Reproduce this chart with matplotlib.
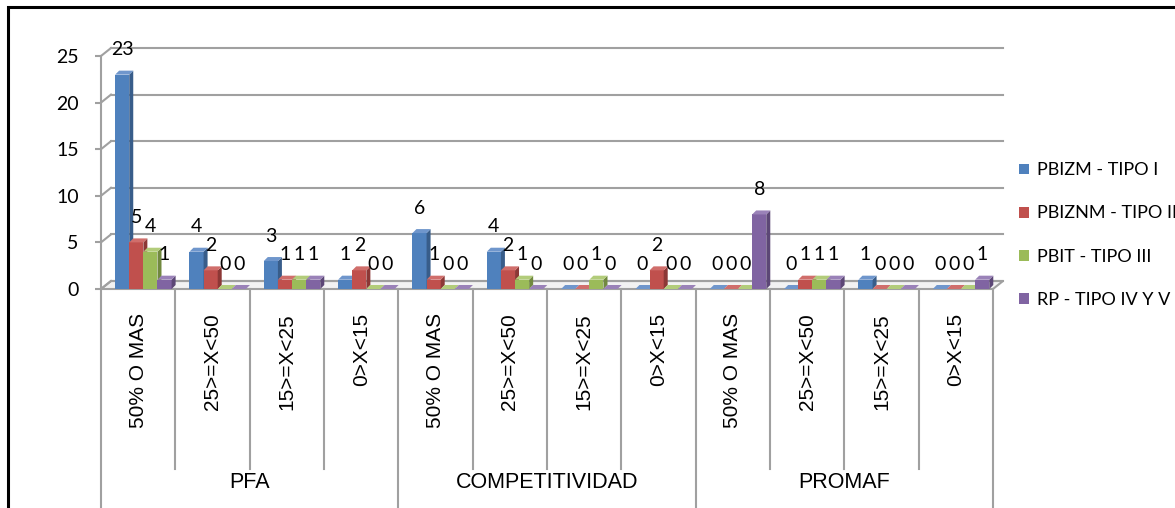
import matplotlib.pyplot as plt
from matplotlib.patches import Polygon, Patch, Rectangle

# categories and counts per tipo
groups = ['PFA', 'COMPETITIVIDAD', 'PROMAF']
ranges = ['50% O MAS', '25>=X<50', '15>=X<25', '0>X<15']
series = ['PBIZM - TIPO I', 'PBIZNM - TIPO II', 'PBIT - TIPO III', 'RP - TIPO IV Y V']

tipo_1 = [23, 4, 3, 1, 6, 4, 0, 0, 0, 0, 1, 0]
tipo_2 = [5, 2, 1, 2, 1, 2, 0, 2, 0, 1, 0, 0]
tipo_3 = [4, 0, 1, 0, 0, 1, 1, 0, 0, 1, 0, 0]
tipo_4 = [1, 0, 1, 0, 0, 0, 0, 0, 8, 1, 0, 1]

y_ticks = [0, 5, 10, 15, 20, 25]

front = ['#4F81BD', '#C0504D', '#9BBB59', '#8064A2']
side = ['#385D8A', '#8C3836', '#71893F', '#5C4776']
top = ['#6F96CC', '#D06E6B', '#B2CC7A', '#9A82B8']

W, H = 1175, 508
fig = plt.figure(figsize=(W / 100, H / 100), dpi=100)

# axes: x in category units, y in counts
ax = fig.add_axes([101 / W, 219 / H, 892 / W, 233 / H])
n = len(tipo_1)
ax.set_xlim(0, n)
ax.set_ylim(0, 25)
px_x = 892 / n
px_y = 233 / 25

for s in ['top', 'right', 'bottom']:
    ax.spines[s].set_visible(False)
ax.spines['left'].set_color('#a0a0a0')
ax.spines['left'].set_linewidth(1.5)
ax.set_xticks([])
ax.set_yticks(y_ticks)
ax.tick_params(axis='y', direction='out', length=4, width=1.5, color='#a0a0a0',
               pad=12, labelsize=14)
for t in ax.get_yticklabels():
    t.set_fontfamily('Lato')

grid_c = '#a0a0a0'
# 3d wall offset
wx = 10 / px_x
wy = 8 / px_y

# floor
floor = Polygon([(0, 0), (n, 0), (n + wx, wy), (wx, wy)], closed=True,
                facecolor='#f2f2f2', edgecolor=grid_c, lw=1.5, clip_on=False, zorder=1)
ax.add_patch(floor)

# back wall gridlines with side-wall connectors
for v in y_ticks:
    ax.plot([0, wx], [v, v + wy], color=grid_c, lw=1.5, clip_on=False, zorder=1)
    ax.plot([wx, n + wx], [v + wy, v + wy], color=grid_c, lw=1.5, clip_on=False, zorder=1)

# bars
bw = 0.19
bx0 = 0.19
dx = 4 / px_x
dy = 4 / px_y
all_vals = [tipo_1, tipo_2, tipo_3, tipo_4]
for i in range(n):
    for k, vals in enumerate(all_vals):
        h = vals[i]
        x0 = i + bx0 + k * bw
        ax.add_patch(Rectangle((x0, 0), bw, h, facecolor=front[k], edgecolor='none',
                               clip_on=False, zorder=3))
        ax.add_patch(Polygon([(x0 + bw, 0), (x0 + bw, h), (x0 + bw + dx, h + dy),
                              (x0 + bw + dx, dy)], closed=True, facecolor=side[k],
                             edgecolor='none', clip_on=False, zorder=3))
        ax.add_patch(Polygon([(x0, h), (x0 + bw, h), (x0 + bw + dx, h + dy),
                              (x0 + dx, h + dy)], closed=True, facecolor=top[k],
                             edgecolor='none', clip_on=False, zorder=3))
        ax.annotate(str(h), (x0 + bw / 2, h), xytext=(0, 18), textcoords='offset points',
                    ha='center', va='center', fontsize=14, family='Lato',
                    annotation_clip=False, zorder=4)

# category axis lines and labels
sub_bottom = -(469 - 289) / px_y
grp_bottom = -(515 - 289) / px_y
for i in range(n + 1):
    y1 = grp_bottom if i % 4 == 0 else sub_bottom
    ax.plot([i, i], [0, y1], color=grid_c, lw=1.5, clip_on=False, zorder=2)

for i in range(n):
    ax.text(i + 0.5, -(313 - 289) / px_y, ranges[i % 4], rotation=90, ha='center',
            va='top', fontsize=15, family='Liberation Sans')

for g, name in enumerate(groups):
    ax.text(g * 4 + 2, -(482 - 289) / px_y, name, ha='center', va='center',
            fontsize=15.5, family='Liberation Sans')

handles = [Patch(facecolor=c, edgecolor='none') for c in front]
fig.legend(handles, series, loc='center left', bbox_to_anchor=(1019 / W, 1 - 235 / H),
           frameon=False, prop={'family': 'Lato', 'size': 13}, handlelength=0.55,
           handleheight=0.55, handletextpad=0.45, labelspacing=1.5, borderpad=0,
           borderaxespad=0)

# outer chart border
fig.patches.append(Rectangle((8 / W, -0.1), 1.2, 1 - 7 / H + 0.1, transform=fig.transFigure,
                             fill=False, edgecolor='black', lw=2.2))

fig.savefig('out.png', dpi=100)
